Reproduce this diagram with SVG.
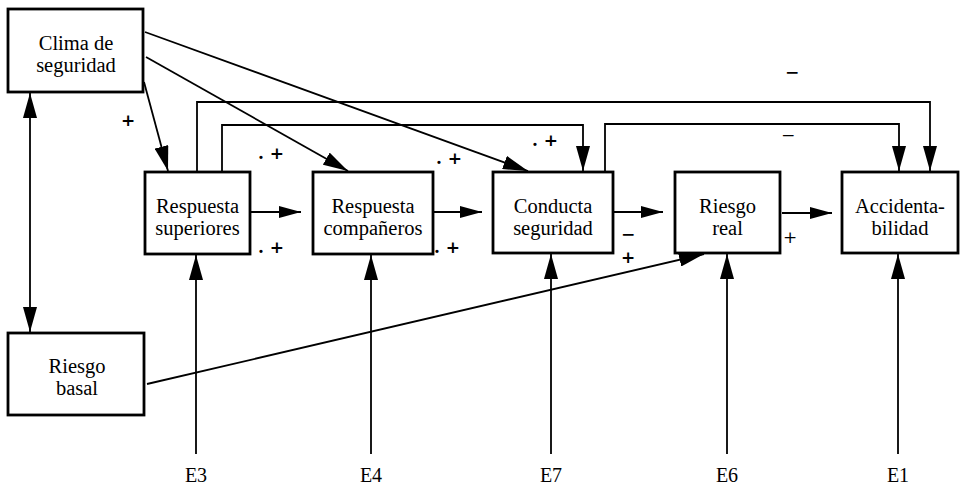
<svg xmlns="http://www.w3.org/2000/svg" width="960" height="488" viewBox="0 0 960 488">
  <style>
    .box { fill: #fff; stroke: #000; stroke-width: 2.8; }
    .wire { fill: none; stroke: #000; stroke-width: 1.8; }
  </style>
  <defs>
    <marker id="arrow" markerUnits="userSpaceOnUse" markerWidth="25" markerHeight="14" refX="25" refY="7" orient="auto-start-reverse">
      <path d="M0,0 L25,7 L0,14 z" fill="#000"/>
    </marker>
    <marker id="arrow-s" markerUnits="userSpaceOnUse" markerWidth="22" markerHeight="12" refX="22" refY="6" orient="auto">
      <path d="M0,0 L22,6 L0,12 z" fill="#000"/>
    </marker>
  </defs>

  <g id="connectors">
    <!-- influences from the safety climate -->
    <line class="wire" x1="145" y1="32" x2="528" y2="171" marker-end="url(#arrow)"/>
    <line class="wire" x1="146" y1="57" x2="348" y2="171" marker-end="url(#arrow)"/>
    <line class="wire" x1="144" y1="82" x2="168" y2="171" marker-end="url(#arrow)"/>
    <!-- climate <-> basal risk -->
    <line class="wire" x1="30" y1="93" x2="30" y2="332" marker-start="url(#arrow)" marker-end="url(#arrow)"/>
    <!-- basal risk to real risk -->
    <line class="wire" x1="147" y1="384" x2="704" y2="254" marker-end="url(#arrow)"/>
    <!-- main chain -->
    <line class="wire" x1="250" y1="212" x2="301" y2="212" marker-end="url(#arrow-s)"/>
    <line class="wire" x1="433" y1="212" x2="482" y2="212" marker-end="url(#arrow-s)"/>
    <line class="wire" x1="613" y1="212" x2="663" y2="212" marker-end="url(#arrow-s)"/>
    <line class="wire" x1="782" y1="213" x2="832" y2="213" stroke-width="1.4" marker-end="url(#arrow-s)"/>
    <!-- feedback paths over the chain -->
    <path class="wire" d="M197,172 V102 H930 V171" marker-end="url(#arrow)"/>
    <path class="wire" d="M222,172 V125 H583 V171" marker-end="url(#arrow)"/>
    <path class="wire" d="M605,172 V124 H899 V171" marker-end="url(#arrow)"/>
    <!-- error terms -->
    <line class="wire" x1="196" y1="454" x2="196" y2="255" marker-end="url(#arrow)"/>
    <line class="wire" x1="371" y1="454" x2="371" y2="255" marker-end="url(#arrow)"/>
    <line class="wire" x1="551" y1="454" x2="551" y2="254" marker-end="url(#arrow)"/>
    <line class="wire" x1="727" y1="454" x2="727" y2="254" marker-end="url(#arrow)"/>
    <line class="wire" x1="898" y1="454" x2="898" y2="254" marker-end="url(#arrow)"/>
  </g>

  <!-- path signs -->
  <g id="signs" font-family="DejaVu Serif, serif" font-size="17" font-weight="bold" fill="#000">
    <text x="128" y="126" text-anchor="middle">+</text>
    <text x="258" y="159">. +</text>
    <text x="436" y="164">. +</text>
    <text x="532" y="146">. +</text>
    <text x="792" y="78" text-anchor="middle">−</text>
    <text x="788" y="141" text-anchor="middle" font-weight="normal">−</text>
    <text x="258" y="253">. +</text>
    <text x="434" y="253">. +</text>
    <text x="628" y="240" text-anchor="middle">−</text>
    <text x="628" y="263" text-anchor="middle">+</text>
    <text x="790" y="243" text-anchor="middle" font-weight="normal">+</text>
  </g>

  <g font-family="Liberation Serif, Times New Roman, serif" font-size="20.5" text-anchor="middle" fill="#000">
    <g id="clima">
      <rect class="box" x="8" y="9" width="135" height="83"/>
      <text x="76" y="50">Clima de</text>
      <text x="76" y="72">seguridad</text>
    </g>
    <g id="riesgo-basal">
      <rect class="box" x="8" y="333" width="136" height="82"/>
      <text x="77" y="373">Riesgo</text>
      <text x="77" y="395">basal</text>
    </g>
    <g id="respuesta-superiores">
      <rect class="box" x="145" y="172" width="105" height="82"/>
      <text x="197.5" y="213">Respuesta</text>
      <text x="197.5" y="235">superiores</text>
    </g>
    <g id="respuesta-companeros">
      <rect class="box" x="313" y="172" width="120" height="82"/>
      <text x="373" y="213">Respuesta</text>
      <text x="373" y="235">compañeros</text>
    </g>
    <g id="conducta-seguridad">
      <rect class="box" x="493" y="172" width="120" height="81"/>
      <text x="553" y="213">Conducta</text>
      <text x="553" y="235">seguridad</text>
    </g>
    <g id="riesgo-real">
      <rect class="box" x="675" y="172" width="105" height="81"/>
      <text x="727.5" y="213">Riesgo</text>
      <text x="727.5" y="235">real</text>
    </g>
    <g id="accidentabilidad">
      <rect class="box" x="842" y="172" width="116" height="81"/>
      <text x="900" y="213">Accidenta-</text>
      <text x="900" y="235">bilidad</text>
    </g>
  </g>

  <!-- error term labels -->
  <g id="error-labels" font-family="Liberation Serif, Times New Roman, serif" font-size="20" text-anchor="middle" fill="#000">
    <text x="196" y="482">E3</text>
    <text x="371" y="482">E4</text>
    <text x="551" y="482">E7</text>
    <text x="727" y="482">E6</text>
    <text x="898" y="482">E1</text>
  </g>
</svg>
